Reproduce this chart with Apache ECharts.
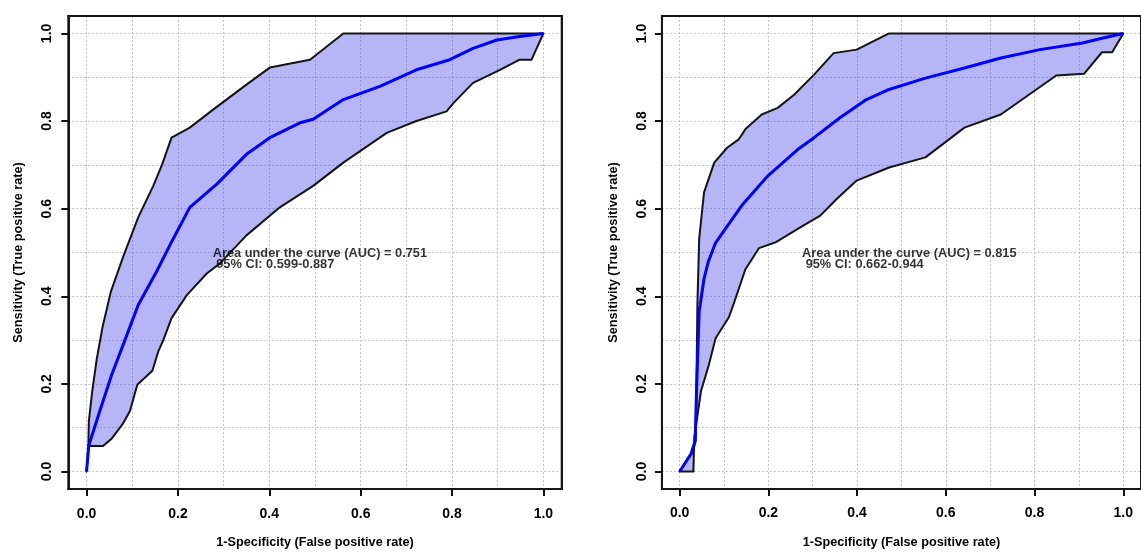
<!DOCTYPE html>
<html>
<head>
<meta charset="utf-8">
<title>ROC curves with 95% CI bands</title>
<script src="https://cdn.jsdelivr.net/npm/echarts@6/dist/echarts.min.js"></script>
<style>
  html, body { margin: 0; padding: 0; background: #ffffff; }
  #chart { width: 1141px; height: 554px; }
</style>
</head>
<body>
<div id="chart"></div>
<script>
// Tick values shown on both axes
const tickValues = [0, 0.2, 0.4, 0.6, 0.8, 1.0];

// Model A: ROC curve and bootstrap 95% confidence band, [FPR, TPR]
const rocA = [[0,0],[0.005,0.06],[0.029,0.138],[0.055,0.221],[0.08,0.289],[0.113,0.38],[0.153,0.456],[0.186,0.524],[0.226,0.603],[0.285,0.656],[0.35,0.724],[0.401,0.762],[0.467,0.796],[0.496,0.804],[0.562,0.849],[0.642,0.879],[0.722,0.917],[0.795,0.94],[0.846,0.966],[0.898,0.985],[0.948,0.993],[1,1]];
const upperA = [[0,0],[0.004,0.06],[0.005,0.115],[0.012,0.18],[0.022,0.255],[0.035,0.33],[0.053,0.41],[0.08,0.49],[0.113,0.58],[0.146,0.652],[0.165,0.70],[0.186,0.762],[0.226,0.785],[0.277,0.826],[0.35,0.883],[0.401,0.922],[0.489,0.94],[0.562,1.0],[1,1]];
const lowerA = [[0,0],[0.004,0.058],[0.036,0.058],[0.055,0.075],[0.08,0.11],[0.095,0.138],[0.111,0.198],[0.144,0.23],[0.157,0.274],[0.168,0.30],[0.186,0.35],[0.219,0.402],[0.263,0.452],[0.292,0.475],[0.35,0.539],[0.423,0.603],[0.496,0.652],[0.562,0.705],[0.657,0.773],[0.722,0.80],[0.788,0.822],[0.803,0.841],[0.846,0.887],[0.905,0.917],[0.948,0.94],[0.974,0.94],[1,1]];
const aucTextA = ['Area under the curve (AUC) = 0.751', ' 95% CI: 0.599-0.887'];

// Model B: ROC curve and bootstrap 95% confidence band, [FPR, TPR]
const rocB = [[0,0],[0.026,0.041],[0.035,0.07],[0.038,0.183],[0.044,0.365],[0.055,0.44],[0.065,0.48],[0.081,0.522],[0.103,0.554],[0.14,0.607],[0.199,0.675],[0.266,0.735],[0.303,0.762],[0.362,0.808],[0.421,0.849],[0.472,0.872],[0.554,0.898],[0.642,0.921],[0.724,0.944],[0.812,0.963],[0.908,0.978],[0.952,0.989],[1,1]];
const upperB = [[0,0],[0.03,0.045],[0.036,0.07],[0.038,0.2],[0.04,0.38],[0.044,0.531],[0.055,0.637],[0.078,0.705],[0.107,0.739],[0.133,0.758],[0.148,0.781],[0.185,0.815],[0.221,0.83],[0.258,0.86],[0.303,0.906],[0.347,0.955],[0.399,0.963],[0.472,1.0],[1,1]];
const lowerB = [[0,0],[0.031,0],[0.033,0.077],[0.048,0.183],[0.066,0.244],[0.081,0.304],[0.111,0.352],[0.126,0.395],[0.148,0.461],[0.179,0.51],[0.218,0.524],[0.27,0.556],[0.317,0.584],[0.354,0.622],[0.399,0.664],[0.472,0.694],[0.554,0.717],[0.642,0.785],[0.724,0.815],[0.849,0.904],[0.912,0.908],[0.952,0.957],[0.975,0.957],[1,1]];
const aucTextB = ['Area under the curve (AUC) = 0.815', ' 95% CI: 0.662-0.944'];

const xTitle = '1-Specificity (False positive rate)';
const yTitle = 'Sensitivity (True positive rate)';

const FONT = '"Liberation Sans", Arial, Helvetica, sans-serif';
const AXIS_MIN = -0.04, AXIS_MAX = 1.04;
const BAND_FILL = 'rgba(41,41,229,0.34)';
const TEXT_ANCHOR = [0.276, 0.485];

const chart = echarts.init(document.getElementById('chart'), null, { renderer: 'canvas' });

// two panels: left edge / width of each plotting frame
const panels = [
  { left: 68.3, width: 493.4, roc: rocA, upper: upperA, lower: lowerA, text: aucTextA, yGap: 43, xLabelMargin: 18, yLabelMargin: 14 },
  { left: 661.9, width: 487.6, roc: rocB, upper: upperB, lower: lowerB, text: aucTextB, yGap: 42, xLabelMargin: 17.5, yLabelMargin: 13 }
];

const grids = [], xAxes = [], yAxes = [], series = [];

panels.forEach((p, i) => {
  grids.push({
    left: p.left, top: 15.9, width: p.width, height: 475.7,
    show: true, borderColor: '#161616', borderWidth: 2, backgroundColor: 'transparent',
    containLabel: false
  });

  // axis carrying ticks, labels and title
  const labelAxis = (isX) => ({
    type: 'value', gridIndex: i, min: AXIS_MIN, max: AXIS_MAX,
    position: isX ? 'bottom' : 'left',
    name: isX ? xTitle : yTitle,
    nameLocation: 'middle',
    nameGap: isX ? 47 : p.yGap,
    nameTextStyle: { fontFamily: FONT, fontWeight: 'bold', fontSize: 12.7, color: '#000' },
    axisLine: { show: true, onZero: false, lineStyle: { color: '#161616', width: 2 } },
    axisTick: {
      show: true, inside: false, length: 7, customValues: tickValues,
      lineStyle: { color: '#111', width: 2 }
    },
    axisLabel: {
      show: true, customValues: tickValues,
      margin: isX ? p.xLabelMargin : p.yLabelMargin,
      rotate: isX ? 0 : 90,
      fontFamily: FONT, fontWeight: 'bold', fontSize: 14, color: '#000',
      formatter: (v) => v.toFixed(1)
    },
    splitLine: { show: false }
  });

  // axis carrying only the dotted 0.1 grid
  const gridAxis = (isX) => ({
    type: 'value', gridIndex: i, min: AXIS_MIN, max: AXIS_MAX, splitNumber: 10,
    position: isX ? 'top' : 'right',
    axisLine: { show: true, onZero: false, lineStyle: { color: '#161616', width: 2 } },
    axisTick: { show: false }, axisLabel: { show: false },
    splitLine: {
      show: true, showMinLine: false, showMaxLine: false,
      lineStyle: { color: '#c4c4c4', width: 1, type: [2, 2] }
    }
  });

  xAxes.push(labelAxis(true), gridAxis(true));
  yAxes.push(labelAxis(false), gridAxis(false));

  const xi = i * 2, yi = i * 2;
  const polygon = p.upper.concat(p.lower.slice().reverse());

  // confidence band
  series.push({
    type: 'custom', xAxisIndex: xi, yAxisIndex: yi,
    data: [[0, 0]],
    renderItem: (params, api) => ({
      type: 'polygon',
      shape: { points: polygon.map((pt) => api.coord(pt)) },
      style: { fill: BAND_FILL, stroke: '#141414', lineWidth: 2, lineJoin: 'round' }
    }),
    silent: true, z: 2
  });

  // ROC curve
  series.push({
    type: 'line', xAxisIndex: xi, yAxisIndex: yi,
    data: p.roc, showSymbol: false, symbol: 'none', smooth: false,
    lineStyle: { color: '#0000ff', width: 3 },
    silent: true, z: 3
  });

  // AUC annotation
  series.push({
    type: 'scatter', xAxisIndex: xi, yAxisIndex: yi,
    data: [TEXT_ANCHOR], symbolSize: 0, silent: true, z: 4,
    label: {
      show: true, position: [0, 0], align: 'left', verticalAlign: 'middle',
      formatter: p.text.join('\n'),
      fontFamily: FONT, fontWeight: 'bold', fontSize: 12.8, lineHeight: 11.5, color: '#000'
    }
  });
});

chart.setOption({
  animation: false,
  backgroundColor: '#ffffff',
  grid: grids,
  xAxis: xAxes,
  yAxis: yAxes,
  series: series
});
</script>
</body>
</html>
